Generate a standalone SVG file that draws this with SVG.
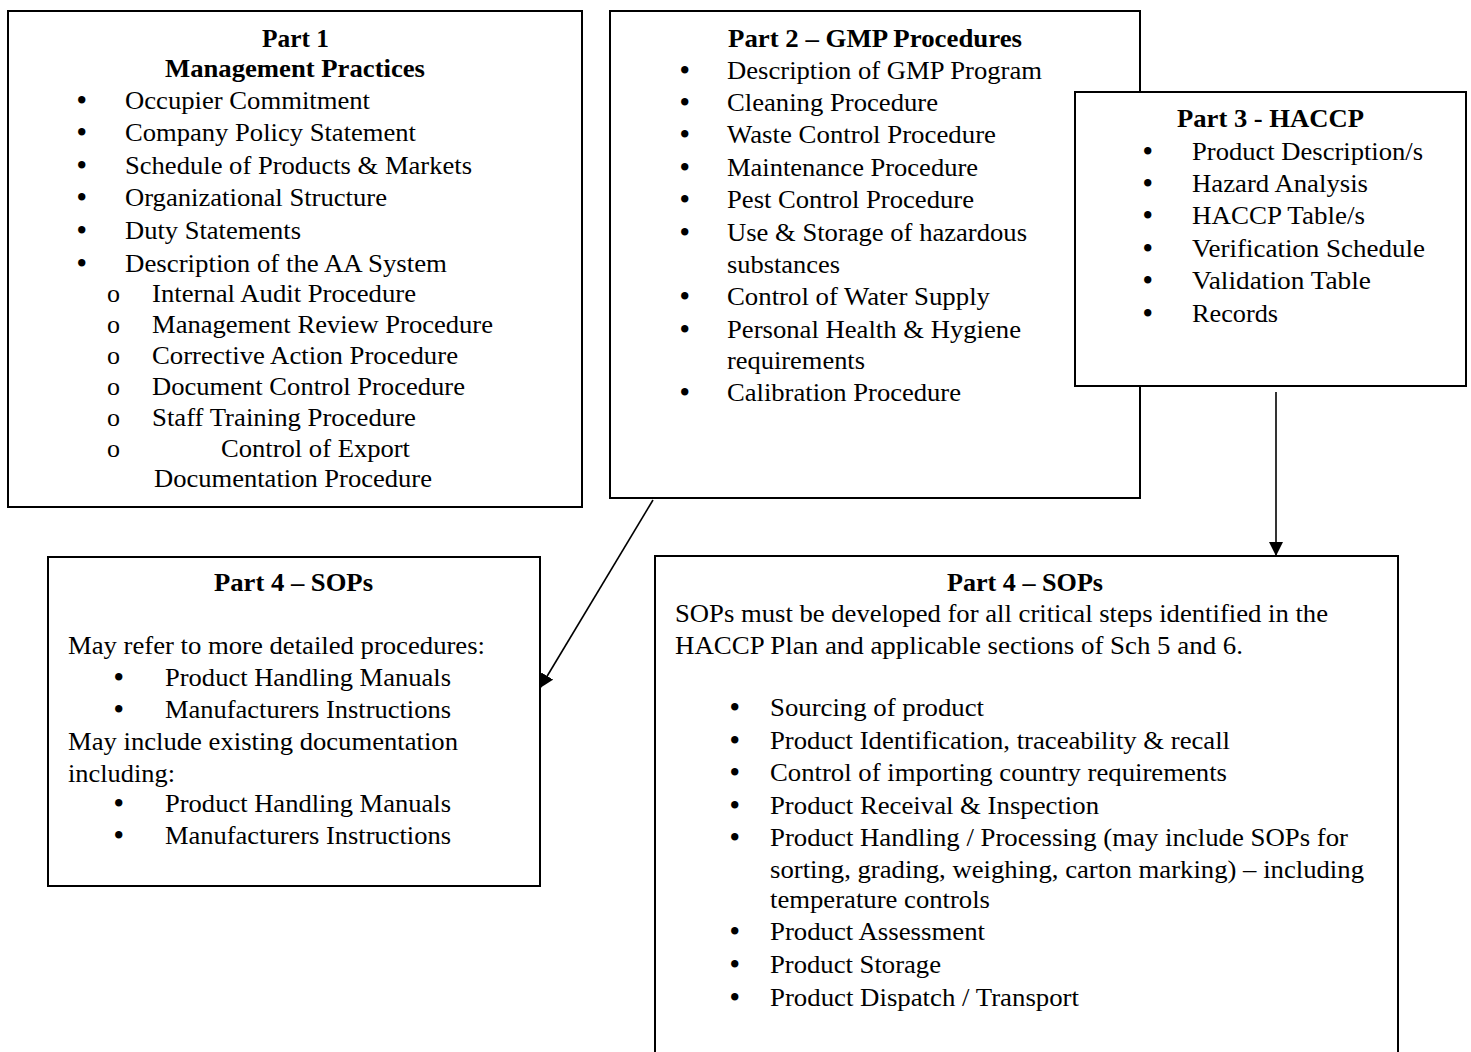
<svg xmlns="http://www.w3.org/2000/svg" width="1471" height="1052" viewBox="0 0 1471 1052">
<style>
.box{fill:#fff;stroke:#000;stroke-width:2}
text{font-family:"Liberation Serif","Times New Roman",serif;font-size:26px;fill:#000}
.b{font-weight:bold}
.u{font-size:27px;font-weight:bold}
.cn{stroke:#000;stroke-width:1.6;fill:none}
</style>
<defs>
<marker id="ah2" viewBox="0 0 10 10" refX="10" refY="5" markerWidth="14" markerHeight="14" markerUnits="userSpaceOnUse" orient="auto">
<path d="M0,0 L10,5 L0,10 Z" fill="#000"/>
</marker>
</defs>
<rect width="1471" height="1052" fill="#fff"/>

<g id="part1">
<rect class="box" x="8" y="11" width="574" height="496"/>
<text class="b" x="262" y="47" textLength="67" lengthAdjust="spacingAndGlyphs">Part 1</text>
<text class="b" x="165" y="77" textLength="260" lengthAdjust="spacingAndGlyphs">Management Practices</text>
<text class="u" x="77" y="109">•</text><text x="125" y="109" textLength="245" lengthAdjust="spacingAndGlyphs">Occupier Commitment</text>
<text class="u" x="77" y="141">•</text><text x="125" y="141" textLength="291" lengthAdjust="spacingAndGlyphs">Company Policy Statement</text>
<text class="u" x="77" y="174">•</text><text x="125" y="174" textLength="347" lengthAdjust="spacingAndGlyphs">Schedule of Products &amp; Markets</text>
<text class="u" x="77" y="206">•</text><text x="125" y="206" textLength="262" lengthAdjust="spacingAndGlyphs">Organizational Structure</text>
<text class="u" x="77" y="239">•</text><text x="125" y="239" textLength="176" lengthAdjust="spacingAndGlyphs">Duty Statements</text>
<text class="u" x="77" y="272">•</text><text x="125" y="272" textLength="322" lengthAdjust="spacingAndGlyphs">Description of the AA System</text>
<text x="107" y="302">o</text><text x="152" y="302" textLength="264" lengthAdjust="spacingAndGlyphs">Internal Audit Procedure</text>
<text x="107" y="333">o</text><text x="152" y="333" textLength="341" lengthAdjust="spacingAndGlyphs">Management Review Procedure</text>
<text x="107" y="364">o</text><text x="152" y="364" textLength="306" lengthAdjust="spacingAndGlyphs">Corrective Action Procedure</text>
<text x="107" y="395">o</text><text x="152" y="395" textLength="313" lengthAdjust="spacingAndGlyphs">Document Control Procedure</text>
<text x="107" y="426">o</text><text x="152" y="426" textLength="264" lengthAdjust="spacingAndGlyphs">Staff Training Procedure</text>
<text x="107" y="457">o</text><text x="221" y="457" textLength="189" lengthAdjust="spacingAndGlyphs">Control of Export</text>
<text x="154" y="487" textLength="278" lengthAdjust="spacingAndGlyphs">Documentation Procedure</text>
</g>

<g id="part2">
<rect class="box" x="610" y="11" width="530" height="487"/>
<text class="b" x="728" y="47" textLength="294" lengthAdjust="spacingAndGlyphs">Part 2 – GMP Procedures</text>
<text class="u" x="680" y="79">•</text><text x="727" y="79" textLength="315" lengthAdjust="spacingAndGlyphs">Description of GMP Program</text>
<text class="u" x="680" y="111">•</text><text x="727" y="111" textLength="211" lengthAdjust="spacingAndGlyphs">Cleaning Procedure</text>
<text class="u" x="680" y="143">•</text><text x="727" y="143" textLength="269" lengthAdjust="spacingAndGlyphs">Waste Control Procedure</text>
<text class="u" x="680" y="176">•</text><text x="727" y="176" textLength="251" lengthAdjust="spacingAndGlyphs">Maintenance Procedure</text>
<text class="u" x="680" y="208">•</text><text x="727" y="208" textLength="247" lengthAdjust="spacingAndGlyphs">Pest Control Procedure</text>
<text class="u" x="680" y="241">•</text><text x="727" y="241" textLength="300" lengthAdjust="spacingAndGlyphs">Use &amp; Storage of hazardous</text>
<text x="727" y="273" textLength="113" lengthAdjust="spacingAndGlyphs">substances</text>
<text class="u" x="680" y="305">•</text><text x="727" y="305" textLength="263" lengthAdjust="spacingAndGlyphs">Control of Water Supply</text>
<text class="u" x="680" y="338">•</text><text x="727" y="338" textLength="294" lengthAdjust="spacingAndGlyphs">Personal Health &amp; Hygiene</text>
<text x="727" y="369" textLength="138" lengthAdjust="spacingAndGlyphs">requirements</text>
<text class="u" x="680" y="401">•</text><text x="727" y="401" textLength="234" lengthAdjust="spacingAndGlyphs">Calibration Procedure</text>
</g>

<g id="part3">
<rect class="box" x="1075" y="92" width="391" height="294"/>
<text class="b" x="1177" y="127" textLength="187" lengthAdjust="spacingAndGlyphs">Part 3 - HACCP</text>
<text class="u" x="1143" y="160">•</text><text x="1192" y="160" textLength="231" lengthAdjust="spacingAndGlyphs">Product Description/s</text>
<text class="u" x="1143" y="192">•</text><text x="1192" y="192" textLength="176" lengthAdjust="spacingAndGlyphs">Hazard Analysis</text>
<text class="u" x="1143" y="224">•</text><text x="1192" y="224" textLength="173" lengthAdjust="spacingAndGlyphs">HACCP Table/s</text>
<text class="u" x="1143" y="257">•</text><text x="1192" y="257" textLength="233" lengthAdjust="spacingAndGlyphs">Verification Schedule</text>
<text class="u" x="1143" y="289">•</text><text x="1192" y="289" textLength="179" lengthAdjust="spacingAndGlyphs">Validation Table</text>
<text class="u" x="1143" y="322">•</text><text x="1192" y="322" textLength="86" lengthAdjust="spacingAndGlyphs">Records</text>
</g>

<g id="part4-left">
<rect class="box" x="48" y="557" width="492" height="329"/>
<text class="b" x="214" y="591" textLength="159" lengthAdjust="spacingAndGlyphs">Part 4 – SOPs</text>
<text x="68" y="654" textLength="417" lengthAdjust="spacingAndGlyphs">May refer to more detailed procedures:</text>
<text class="u" x="114" y="686">•</text><text x="165" y="686" textLength="286" lengthAdjust="spacingAndGlyphs">Product Handling Manuals</text>
<text class="u" x="114" y="718">•</text><text x="165" y="718" textLength="286" lengthAdjust="spacingAndGlyphs">Manufacturers Instructions</text>
<text x="68" y="750" textLength="390" lengthAdjust="spacingAndGlyphs">May include existing documentation</text>
<text x="68" y="782" textLength="107" lengthAdjust="spacingAndGlyphs">including:</text>
<text class="u" x="114" y="812">•</text><text x="165" y="812" textLength="286" lengthAdjust="spacingAndGlyphs">Product Handling Manuals</text>
<text class="u" x="114" y="844">•</text><text x="165" y="844" textLength="286" lengthAdjust="spacingAndGlyphs">Manufacturers Instructions</text>
</g>

<g id="part4-right">
<rect class="box" x="655" y="556" width="743" height="510"/>
<text class="b" x="947" y="591" textLength="156" lengthAdjust="spacingAndGlyphs">Part 4 – SOPs</text>
<text x="675" y="622" textLength="653" lengthAdjust="spacingAndGlyphs">SOPs must be developed for all critical steps identified in the</text>
<text x="675" y="654" textLength="568" lengthAdjust="spacingAndGlyphs">HACCP Plan and applicable sections of Sch 5 and 6.</text>
<text class="u" x="730" y="716">•</text><text x="770" y="716" textLength="214" lengthAdjust="spacingAndGlyphs">Sourcing of product</text>
<text class="u" x="730" y="749">•</text><text x="770" y="749" textLength="460" lengthAdjust="spacingAndGlyphs">Product Identification, traceability &amp; recall</text>
<text class="u" x="730" y="781">•</text><text x="770" y="781" textLength="457" lengthAdjust="spacingAndGlyphs">Control of importing country requirements</text>
<text class="u" x="730" y="814">•</text><text x="770" y="814" textLength="329" lengthAdjust="spacingAndGlyphs">Product Receival &amp; Inspection</text>
<text class="u" x="730" y="846">•</text><text x="770" y="846" textLength="578" lengthAdjust="spacingAndGlyphs">Product Handling / Processing (may include SOPs for</text>
<text x="770" y="878" textLength="594" lengthAdjust="spacingAndGlyphs">sorting, grading, weighing, carton marking) – including</text>
<text x="770" y="908" textLength="220" lengthAdjust="spacingAndGlyphs">temperature controls</text>
<text class="u" x="730" y="940">•</text><text x="770" y="940" textLength="215" lengthAdjust="spacingAndGlyphs">Product Assessment</text>
<text class="u" x="730" y="973">•</text><text x="770" y="973" textLength="171" lengthAdjust="spacingAndGlyphs">Product Storage</text>
<text class="u" x="730" y="1006">•</text><text x="770" y="1006" textLength="309" lengthAdjust="spacingAndGlyphs">Product Dispatch / Transport</text>
</g>

<g id="connectors">
<line class="cn" x1="653" y1="500" x2="540" y2="688" marker-end="url(#ah2)"/>
<line class="cn" x1="1276" y1="392" x2="1276" y2="556" marker-end="url(#ah2)"/>
</g>
</svg>
